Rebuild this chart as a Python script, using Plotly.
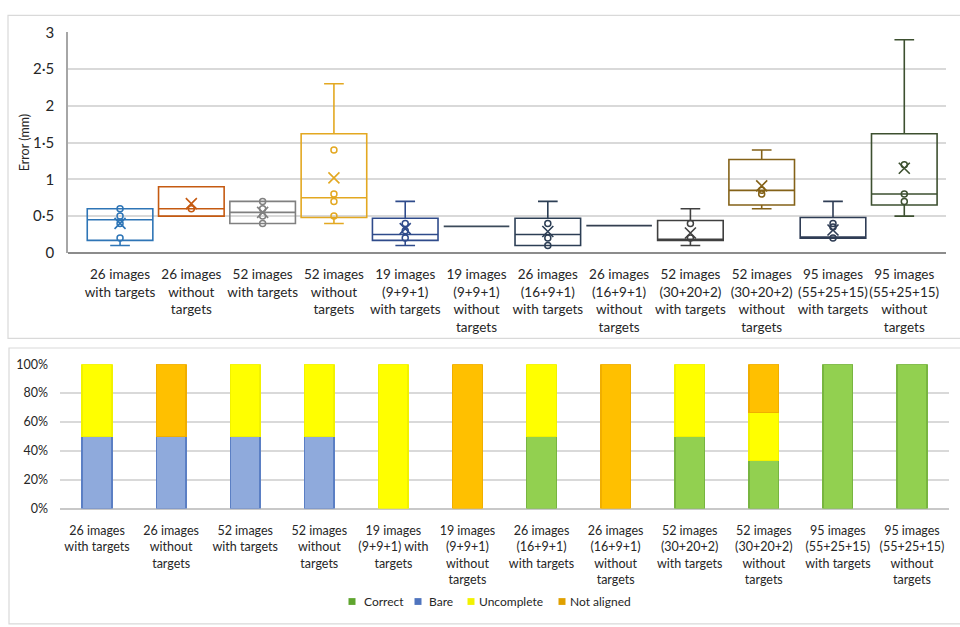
import plotly.graph_objects as go

# ---- Data -------------------------------------------------------------
box_labels = [
    "26 images<br>with targets", "26 images<br>without<br>targets",
    "52 images<br>with targets", "52 images<br>without<br>targets",
    "19 images<br>(9+9+1)<br>with targets", "19 images<br>(9+9+1)<br>without<br>targets",
    "26 images<br>(16+9+1)<br>with targets", "26 images<br>(16+9+1)<br>without<br>targets",
    "52 images<br>(30+20+2)<br>with targets", "52 images<br>(30+20+2)<br>without<br>targets",
    "95 images<br>(55+25+15)<br>with targets", "95 images<br>(55+25+15)<br>without<br>targets",
]
q1 = [0.17, 0.50, 0.40, 0.48, 0.17, 0.36, 0.10, 0.37, 0.17, 0.65, 0.20, 0.65]
medians = [0.45, 0.60, 0.55, 0.75, 0.25, 0.36, 0.25, 0.37, 0.18, 0.85, 0.20, 0.80]
q3 = [0.60, 0.90, 0.70, 1.62, 0.47, 0.36, 0.47, 0.37, 0.44, 1.27, 0.48, 1.62]
lower_whisker = [0.10, 0.50, 0.40, 0.40, 0.10, 0.36, 0.10, 0.37, 0.10, 0.60, 0.20, 0.50]
upper_whisker = [0.60, 0.90, 0.70, 2.30, 0.70, 0.36, 0.70, 0.37, 0.60, 1.40, 0.70, 2.90]
means = [0.40, 0.67, 0.55, 1.02, 0.33, None, 0.29, None, 0.27, 0.91, 0.31, 1.15]
inner_points = [
    [0.2, 0.4, 0.5, 0.6], [0.6], [0.4, 0.5, 0.6, 0.7], [0.5, 0.7, 0.8, 1.4],
    [0.2, 0.3, 0.4], [], [0.1, 0.2, 0.4], [], [0.2, 0.4], [0.8, 0.85],
    [0.2, 0.35, 0.4], [0.7, 0.8, 1.2],
]
box_colors = ["#2E75B6", "#C55A11", "#808080", "#E3A821", "#2F4B8B", "#3B4A5A",
              "#2C3E55", "#333F50", "#404040", "#846218", "#2F3D55", "#3D5030"]

bar_labels = [
    "26 images<br>with targets", "26 images<br>without<br>targets",
    "52 images<br>with targets", "52 images<br>without<br>targets",
    "19 images<br>(9+9+1) with<br>targets", "19 images<br>(9+9+1)<br>without<br>targets",
    "26 images<br>(16+9+1)<br>with targets", "26 images<br>(16+9+1)<br>without<br>targets",
    "52 images<br>(30+20+2)<br>with targets", "52 images<br>(30+20+2)<br>without<br>targets",
    "95 images<br>(55+25+15)<br>with targets", "95 images<br>(55+25+15)<br>without<br>targets",
]
third = 100 / 3
correct = [0, 0, 0, 0, 0, 0, 50, 0, 50, third, 100, 100]
bare = [50, 50, 50, 50, 0, 0, 0, 0, 0, 0, 0, 0]
uncomplete = [50, 0, 50, 50, 100, 0, 50, 0, 50, third, 0, 0]
not_aligned = [0, 50, 0, 0, 0, 100, 0, 100, 0, third, 0, 0]

y_ticks = [0, 0.5, 1, 1.5, 2, 2.5, 3]
y_tick_text = ["0", "0·5", "1", "1·5", "2", "2·5", "3"]
pct_ticks = [0, 20, 40, 60, 80, 100]
pct_tick_text = ["0%", "20%", "40%", "60%", "80%", "100%"]

W, H = 960, 627
FONT = "Lato, 'Open Sans', sans-serif"
DARK = "#262626"


def px(x):
    return x / W


def py(y):
    return 1 - y / H


fig = go.Figure()

# ---- Box plots (top) --------------------------------------------------
for i, lab in enumerate(box_labels):
    c = box_colors[i]
    fig.add_trace(go.Box(
        x=[lab], q1=[q1[i]], median=[medians[i]], q3=[q3[i]],
        lowerfence=[lower_whisker[i]], upperfence=[upper_whisker[i]],
        width=0.92, whiskerwidth=0.3, fillcolor="rgba(0,0,0,0)",
        line=dict(color=c, width=1.6), boxpoints=False,
        xaxis="x", yaxis="y", showlegend=False, hoverinfo="skip",
    ))
    if inner_points[i]:
        fig.add_trace(go.Scatter(
            x=[lab] * len(inner_points[i]), y=inner_points[i], mode="markers",
            marker=dict(symbol="circle-open", size=6, color=c, line=dict(width=1.5)),
            xaxis="x", yaxis="y", showlegend=False, hoverinfo="skip",
        ))
    if means[i] is not None:
        fig.add_trace(go.Scatter(
            x=[lab], y=[means[i]], mode="markers",
            marker=dict(symbol="x-thin-open", size=11, color=c, line=dict(width=1.6, color=c)),
            xaxis="x", yaxis="y", showlegend=False, hoverinfo="skip",
        ))

# ---- Stacked bars (bottom) -------------------------------------------
bar_series = [
    ("Correct", correct, "#92D050", "#78B540", "#5FA52E"),
    ("Bare", bare, "#8FAADC", "#5B7FC4", "#4F74BE"),
    ("Uncomplete", uncomplete, "#FFFF00", "#F2F200", "#F2F200"),
    ("Not aligned", not_aligned, "#FFC000", "#F0AE00", "#E0A000"),
]
for name, vals, fill, edge, _ in bar_series:
    fig.add_trace(go.Bar(
        x=bar_labels, y=[v if v else None for v in vals], name=name,
        xaxis="x2", yaxis="y2", showlegend=False,
        marker=dict(color=fill, line=dict(color=edge, width=1.5)),
        hoverinfo="skip",
    ))

# Compact legend beneath the bar chart: small square swatch + label
legend_pos = [(352, 362), (418, 427), (471, 477), (562, 568)]
shapes = []
annotations = []
for (name, _, _, _, swatch), (sx, tx) in zip(bar_series, legend_pos):
    shapes.append(dict(type="rect", xref="paper", yref="paper",
                       x0=px(sx - 3.5), x1=px(sx + 3.5), y0=py(612.5), y1=py(605.5),
                       fillcolor=swatch, line=dict(width=0)))
    annotations.append(dict(text=name, xref="paper", yref="paper",
                            x=px(tx), y=py(609), xanchor="left", yanchor="middle",
                            showarrow=False, font=dict(size=12, color=DARK)))

# Light frames around the two panels
shapes += [
    dict(type="rect", xref="paper", yref="paper",
         x0=px(8), x1=px(965), y0=py(338), y1=py(5.5),
         line=dict(color="#D9D9D9", width=1.2)),
    dict(type="rect", xref="paper", yref="paper",
         x0=px(9), x1=px(965), y0=py(632), y1=py(348),
         line=dict(color="#D9D9D9", width=1.2)),
]

# ---- Layout -----------------------------------------------------------
fig.update_layout(
    width=W, height=H,
    margin=dict(l=0, r=0, t=0, b=0),
    paper_bgcolor="white", plot_bgcolor="white",
    font=dict(family=FONT, color=DARK),
    barmode="stack", bargap=0.6, boxmode="overlay",
    showlegend=False,
    xaxis=dict(
        domain=[px(68), px(946)], anchor="y", type="category",
        range=[-0.73, 11.585], showgrid=False, showline=False,
        ticks="", tickangle=0, tickfont=dict(size=13.5, color=DARK),
        ticklabelstandoff=12,
    ),
    yaxis=dict(
        domain=[py(250), py(23)], anchor="x", range=[0, 3],
        tickvals=y_ticks, ticktext=y_tick_text,
        tickfont=dict(size=15, color=DARK),
        showgrid=True, gridcolor="#D9D9D9", gridwidth=1.5,
        showline=True, linecolor="#A6A6A6", linewidth=1.5,
        zeroline=True, zerolinecolor="#8C8C8C", zerolinewidth=2,
        ticks="", ticklabelstandoff=9,
        title=dict(text="Error (mm)", font=dict(size=12.5, color=DARK), standoff=1),
    ),
    xaxis2=dict(
        domain=[px(60), px(949)], anchor="y2", type="category",
        showgrid=False, showline=False, ticks="", tickangle=0,
        tickfont=dict(size=12.5, color=DARK), ticklabelstandoff=13,
    ),
    yaxis2=dict(
        domain=[py(513.3), py(364.7)], anchor="x2", range=[0, 100],
        tickvals=pct_ticks, ticktext=pct_tick_text,
        tickfont=dict(size=12.5, color=DARK),
        showgrid=True, gridcolor="#D9D9D9", gridwidth=1.5,
        zeroline=True, zerolinecolor="#C8C8C8", zerolinewidth=1.5,
        showline=False, ticks="", ticklabelstandoff=11,
    ),
    shapes=shapes,
    annotations=annotations,
)

fig.write_html("out.html")
